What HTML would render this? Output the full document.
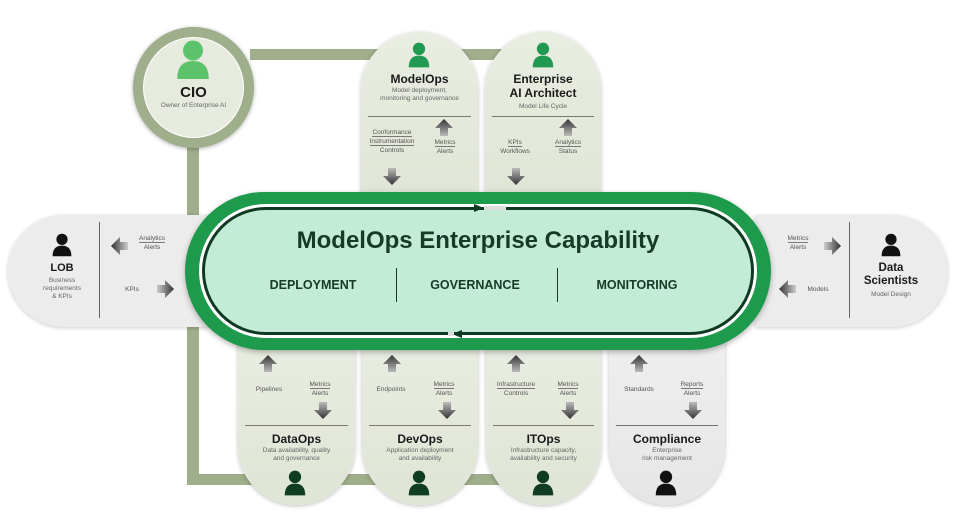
<!DOCTYPE html>
<html><head><meta charset="utf-8"><style>
*{margin:0;padding:0;box-sizing:border-box}
body{width:961px;height:519px;background:#fff;position:relative;overflow:hidden;font-family:"Liberation Sans",sans-serif;color:#333}
.a{position:absolute}
.t{position:absolute;text-align:center;white-space:nowrap}
.h{font-weight:bold;color:#1a1a1a;font-size:12px}
.s{font-size:6.5px;color:#666;line-height:8px}
.l{font-size:6.5px;color:#555;line-height:9px}
.pill{position:absolute;background:linear-gradient(#e9ede2,#dfe5d5);box-shadow:0 1px 4px rgba(0,0,0,.25)}
.ul{border-bottom:1px solid #777}
</style></head><body>
<div class="a" style="left:250px;top:49px;width:280px;height:11px;background:#9fae8b"></div>
<div class="a" style="left:187px;top:140px;width:12px;height:345px;background:#9fae8b"></div>
<div class="a" style="left:187px;top:474px;width:320px;height:11px;background:#9fae8b"></div>

<div class="a" style="left:133px;top:27px;width:121px;height:121px;border-radius:50%;background:#9fae8b;box-shadow:0 1px 4px rgba(0,0,0,.3)"></div>
<div class="a" style="left:143px;top:37px;width:101px;height:101px;border-radius:50%;background:#e6eadf;border:1px solid #fff"></div>
<svg class="a" style="left:176px;top:40px" width="34" height="40" viewBox="0 0 32 38"><circle cx="16" cy="10" r="9.5" fill="#5cc36a"/><path d="M1 37 Q1 20 16 20 Q31 20 31 37Z" fill="#5cc36a"/></svg>
<div class="t h" style="left:143px;width:101px;top:84px;font-size:15px">CIO</div>
<div class="t s" style="left:143px;width:101px;top:102px">Owner of Enterprise AI</div>

<div class="pill" style="left:361px;top:32px;width:117px;height:180px;border-radius:58px 58px 0 0"></div>
<div class="pill" style="left:485px;top:32px;width:116px;height:180px;border-radius:58px 58px 0 0"></div>
<svg class="a" style="left:408px;top:42px" width="22" height="26" viewBox="0 0 32 38"><circle cx="16" cy="10" r="9" fill="#1f9a50"/><path d="M1 37 Q1 20 16 20 Q31 20 31 37Z" fill="#1f9a50"/></svg>
<svg class="a" style="left:532px;top:42px" width="22" height="26" viewBox="0 0 32 38"><circle cx="16" cy="10" r="9" fill="#1f9a50"/><path d="M1 37 Q1 20 16 20 Q31 20 31 37Z" fill="#1f9a50"/></svg>
<div class="t h" style="left:361px;width:117px;top:72px">ModelOps</div>
<div class="t s" style="left:361px;width:117px;top:87px">Model deployment,<br>monitoring and governance</div>
<div class="t h" style="left:485px;width:116px;top:72px">Enterprise<br>AI Architect</div>
<div class="t s" style="left:485px;width:116px;top:103px">Model Life Cycle</div>
<div class="a" style="left:368px;top:116px;width:103px;border-top:1px solid #777"></div>
<div class="a" style="left:492px;top:116px;width:102px;border-top:1px solid #777"></div>
<div class="t l" style="left:362px;width:60px;top:128px"><span class="ul">Conformance</span><br><span class="ul">Instrumentation</span><br>Controls</div>
<div class="t l" style="left:425px;width:40px;top:138px"><span class="ul">Metrics</span><br>Alerts</div>
<div class="t l" style="left:495px;width:40px;top:138px"><span class="ul">KPIs</span><br>Workflows</div>
<div class="t l" style="left:548px;width:40px;top:138px"><span class="ul">Analytics</span><br>Status</div>

<div class="a" style="left:8px;top:215px;width:200px;height:112px;border-radius:56px 0 0 56px;background:#ececec;box-shadow:0 1px 4px rgba(0,0,0,.2)"></div>
<div class="a" style="left:755px;top:215px;width:193px;height:112px;border-radius:0 56px 56px 0;background:#ececec;box-shadow:0 1px 4px rgba(0,0,0,.2)"></div>
<div class="a" style="left:99px;top:222px;width:1px;height:96px;background:#666"></div>
<div class="a" style="left:849px;top:222px;width:1px;height:96px;background:#666"></div>
<svg class="a" style="left:52px;top:232px" width="20" height="26" viewBox="0 0 32 38"><circle cx="16" cy="10" r="9" fill="#111"/><path d="M1 37 Q1 20 16 20 Q31 20 31 37Z" fill="#111"/></svg>
<div class="t h" style="left:30px;width:64px;top:262px;font-size:11px">LOB</div>
<div class="t s" style="left:30px;width:64px;top:277px">Business<br>requirements<br>&amp; KPIs</div>
<svg class="a" style="left:881px;top:232px" width="20" height="26" viewBox="0 0 32 38"><circle cx="16" cy="10" r="9" fill="#111"/><path d="M1 37 Q1 20 16 20 Q31 20 31 37Z" fill="#111"/></svg>
<div class="t h" style="left:856px;width:70px;top:262px;font-size:11.5px;line-height:13px">Data<br>Scientists</div>
<div class="t s" style="left:856px;width:70px;top:291px">Model Design</div>
<div class="t l" style="left:132px;width:40px;top:234px"><span class="ul">Analytics</span><br>Alerts</div>
<div class="t l" style="left:112px;width:40px;top:285px">KPIs</div>
<div class="t l" style="left:778px;width:40px;top:234px"><span class="ul">Metrics</span><br>Alerts</div>
<div class="t l" style="left:798px;width:40px;top:285px">Models</div>

<div class="pill" style="left:238px;top:330px;width:117px;height:175px;border-radius:0 0 58px 58px"></div>
<div class="pill" style="left:362px;top:330px;width:116px;height:175px;border-radius:0 0 58px 58px"></div>
<div class="pill" style="left:486px;top:330px;width:115px;height:175px;border-radius:0 0 58px 58px"></div>
<div class="pill" style="left:609px;top:330px;width:116px;height:175px;border-radius:0 0 58px 58px;background:linear-gradient(#efefef,#e6e6e6)"></div>
<div class="t l" style="left:245px;width:48px;top:385px">Pipelines</div>
<div class="t l" style="left:300px;width:40px;top:380px"><span class="ul">Metrics</span><br>Alerts</div>
<div class="t l" style="left:367px;width:48px;top:385px">Endpoints</div>
<div class="t l" style="left:424px;width:40px;top:380px"><span class="ul">Metrics</span><br>Alerts</div>
<div class="t l" style="left:488px;width:56px;top:380px"><span class="ul">Infrastructure</span><br>Controls</div>
<div class="t l" style="left:548px;width:40px;top:380px"><span class="ul">Metrics</span><br>Alerts</div>
<div class="t l" style="left:614px;width:50px;top:385px">Standards</div>
<div class="t l" style="left:672px;width:40px;top:380px"><span class="ul">Reports</span><br>Alerts</div>
<div class="a" style="left:245px;top:425px;width:103px;border-top:1px solid #777"></div>
<div class="a" style="left:369px;top:425px;width:102px;border-top:1px solid #777"></div>
<div class="a" style="left:493px;top:425px;width:101px;border-top:1px solid #777"></div>
<div class="a" style="left:616px;top:425px;width:102px;border-top:1px solid #777"></div>
<div class="t h" style="left:238px;width:117px;top:432px">DataOps</div>
<div class="t s" style="left:238px;width:117px;top:447px">Data availability, quality<br>and governance</div>
<div class="t h" style="left:362px;width:116px;top:432px">DevOps</div>
<div class="t s" style="left:362px;width:116px;top:447px">Application deployment<br>and availability</div>
<div class="t h" style="left:486px;width:115px;top:432px">ITOps</div>
<div class="t s" style="left:486px;width:115px;top:447px">Infrastructure capacity,<br>availability and security</div>
<div class="t h" style="left:609px;width:116px;top:432px">Compliance</div>
<div class="t s" style="left:609px;width:116px;top:447px">Enterprise<br>risk management</div>
<svg class="a" style="left:284px;top:470px" width="22" height="26" viewBox="0 0 32 38"><circle cx="16" cy="10" r="9" fill="#0f3d22"/><path d="M1 37 Q1 20 16 20 Q31 20 31 37Z" fill="#0f3d22"/></svg>
<svg class="a" style="left:408px;top:470px" width="22" height="26" viewBox="0 0 32 38"><circle cx="16" cy="10" r="9" fill="#0f3d22"/><path d="M1 37 Q1 20 16 20 Q31 20 31 37Z" fill="#0f3d22"/></svg>
<svg class="a" style="left:532px;top:470px" width="22" height="26" viewBox="0 0 32 38"><circle cx="16" cy="10" r="9" fill="#0f3d22"/><path d="M1 37 Q1 20 16 20 Q31 20 31 37Z" fill="#0f3d22"/></svg>
<svg class="a" style="left:655px;top:470px" width="22" height="26" viewBox="0 0 32 38"><circle cx="16" cy="10" r="9" fill="#111"/><path d="M1 37 Q1 20 16 20 Q31 20 31 37Z" fill="#111"/></svg>

<svg class="a" style="left:0;top:0" width="961" height="519">
<defs>
<linearGradient id="gu" x1="0" y1="1" x2="0" y2="0"><stop offset="0" stop-color="#bbb"/><stop offset="1" stop-color="#333"/></linearGradient>
<linearGradient id="gd" x1="0" y1="0" x2="0" y2="1"><stop offset="0" stop-color="#bbb"/><stop offset="1" stop-color="#333"/></linearGradient>
<linearGradient id="gl" x1="1" y1="0" x2="0" y2="0"><stop offset="0" stop-color="#ccc"/><stop offset="1" stop-color="#333"/></linearGradient>
<linearGradient id="gr" x1="0" y1="0" x2="1" y2="0"><stop offset="0" stop-color="#ccc"/><stop offset="1" stop-color="#333"/></linearGradient>
<g id="up"><polygon points="0,-9 9,0 4,0 4,8 -4,8 -4,0 -9,0" fill="url(#gu)"/></g>
<g id="dn"><polygon points="0,9 9,0 4,0 4,-8 -4,-8 -4,0 -9,0" fill="url(#gd)"/></g>
<g id="lf"><polygon points="-9,0 0,-9 0,-4 8,-4 8,4 0,4 0,9" fill="url(#gl)"/></g>
<g id="rt"><polygon points="9,0 0,-9 0,-4 -8,-4 -8,4 0,4 0,9" fill="url(#gr)"/></g>
</defs>
<use href="#up" x="444" y="128"/><use href="#up" x="568" y="128"/>
<use href="#dn" x="392" y="176"/><use href="#dn" x="516" y="176"/>
<use href="#lf" x="120" y="246"/><use href="#rt" x="165" y="289"/>
<use href="#rt" x="832" y="246"/><use href="#lf" x="788" y="289"/>
<use href="#up" x="268" y="364"/><use href="#up" x="392" y="364"/><use href="#up" x="516" y="364"/><use href="#up" x="639" y="364"/>
<use href="#dn" x="323" y="410"/><use href="#dn" x="447" y="410"/><use href="#dn" x="570" y="410"/><use href="#dn" x="693" y="410"/>
</svg>

<div class="a" style="left:185px;top:192px;width:586px;height:158px;border-radius:79px;background:#1e9a4c;box-shadow:0 2px 6px rgba(0,0,0,.3)"></div>
<div class="a" style="left:199px;top:204px;width:558px;height:134px;border-radius:67px;background:#fff"></div>
<div class="a" style="left:202px;top:207px;width:552px;height:128px;border-radius:64px;background:#c4ebd5;border:3px solid #0f3a22"></div>
<svg class="a" style="left:470px;top:203px" width="40" height="10"><polygon points="4,1 14,5 4,9" fill="#0f3a22"/><rect x="14" y="3" width="22" height="4" fill="#ddd"/></svg>
<svg class="a" style="left:448px;top:329px" width="40" height="10"><polygon points="14,1 4,5 14,9" fill="#0f3a22"/><rect x="-2" y="3" width="8" height="4" fill="#ddd"/></svg>
<div class="t" style="left:202px;width:552px;top:227px;font-size:24px;font-weight:bold;color:#163a26">ModelOps Enterprise Capability</div>
<div class="t" style="left:258px;width:110px;top:278px;font-size:12.5px;font-weight:bold;color:#163a26">DEPLOYMENT</div>
<div class="t" style="left:420px;width:110px;top:278px;font-size:12.5px;font-weight:bold;color:#163a26">GOVERNANCE</div>
<div class="t" style="left:582px;width:110px;top:278px;font-size:12.5px;font-weight:bold;color:#163a26">MONITORING</div>
<div class="a" style="left:396px;top:268px;width:1px;height:34px;background:#163a26"></div>
<div class="a" style="left:557px;top:268px;width:1px;height:34px;background:#163a26"></div>
</body></html>
